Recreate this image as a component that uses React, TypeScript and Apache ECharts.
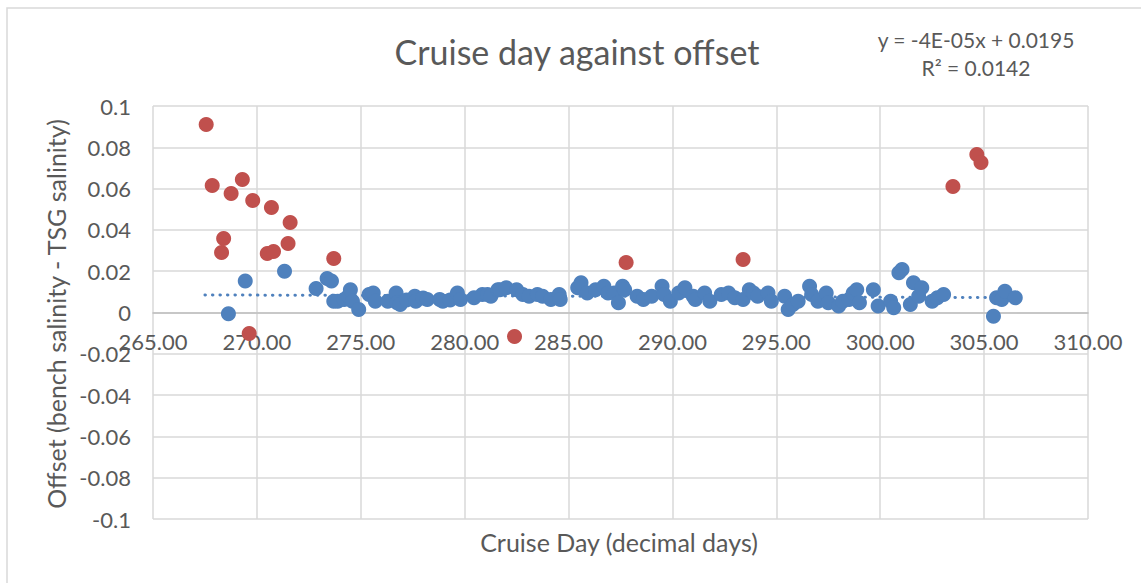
import React, { useEffect, useRef } from "react";
import * as echarts from "echarts";

const blueX = [268.63, 269.44, 271.33, 272.85, 273.38, 273.59, 273.7, 273.89, 274.2, 274.4, 274.5, 274.6, 274.9, 275.4, 275.6, 275.7, 276.3, 276.7, 276.75, 276.9, 277.2, 277.6, 277.65, 278.0, 278.2, 278.8, 278.95, 279.3, 279.65, 279.8, 280.45, 280.85, 281.1, 281.26, 281.6, 281.7, 282.0, 282.5, 282.8, 283.1, 283.5, 283.75, 284.15, 284.55, 284.6, 285.44, 285.6, 285.9, 286.3, 286.7, 286.9, 287.2, 287.4, 287.6, 287.7, 288.3, 288.6, 289.0, 289.5, 289.6, 289.9, 290.3, 290.6, 291.0, 291.1, 291.55, 291.8, 292.35, 292.7, 293.0, 293.4, 293.7, 293.9, 294.1, 294.6, 294.76, 295.4, 295.57, 295.8, 296.05, 296.6, 296.7, 297.0, 297.4, 297.5, 298.0, 298.2, 298.5, 298.7, 298.87, 299.0, 299.67, 299.9, 300.5, 300.65, 300.9, 301.05, 301.45, 301.6, 301.85, 302.0, 302.5, 302.75, 303.05, 305.45, 305.6, 305.85, 306.0, 306.5];
const blueY = [-0.0006, 0.0153, 0.02, 0.0116, 0.0165, 0.0152, 0.0055, 0.0055, 0.0063, 0.0079, 0.011, 0.0055, 0.0015, 0.0087, 0.0095, 0.0055, 0.0055, 0.0095, 0.0047, 0.0039, 0.006, 0.0079, 0.0055, 0.007, 0.0063, 0.0063, 0.0055, 0.006, 0.0095, 0.0063, 0.0071, 0.0087, 0.0087, 0.0079, 0.011, 0.011, 0.012, 0.011, 0.0087, 0.0079, 0.0087, 0.0079, 0.0063, 0.0087, 0.0063, 0.012, 0.0144, 0.0095, 0.011, 0.0127, 0.0095, 0.0095, 0.0047, 0.0127, 0.011, 0.0079, 0.0063, 0.0079, 0.0127, 0.0087, 0.0055, 0.0095, 0.012, 0.0079, 0.0063, 0.0095, 0.0055, 0.0087, 0.0095, 0.0071, 0.0063, 0.011, 0.0095, 0.0079, 0.0095, 0.0055, 0.0079, 0.0015, 0.0039, 0.0055, 0.0127, 0.0087, 0.0055, 0.0095, 0.0047, 0.0031, 0.0055, 0.0063, 0.0095, 0.011, 0.0047, 0.011, 0.0031, 0.0055, 0.0023, 0.0192, 0.0208, 0.0039, 0.0144, 0.0079, 0.012, 0.0055, 0.0071, 0.0087, -0.0018, 0.0071, 0.0063, 0.0103, 0.0071];

const redX = [267.56, 267.85, 268.4, 268.3, 268.76, 269.3, 269.63, 269.8, 270.7, 270.5, 270.8, 271.5, 271.6, 273.7, 282.4, 287.77, 293.4, 303.5, 304.65, 304.85];
const redY = [0.091, 0.0615, 0.0358, 0.029, 0.0576, 0.0644, -0.0102, 0.0542, 0.0508, 0.0286, 0.0295, 0.0334, 0.0436, 0.0262, -0.0116, 0.0242, 0.0257, 0.061, 0.0765, 0.0726];

const trendX = [267.5, 306.5];
const trendY = [0.0085, 0.0072];

const titleText = "Cruise day against offset";
const eqLines = ["y = -4E-05x + 0.0195", "R² = 0.0142"];
const xName = "Cruise Day (decimal days)";
const yName = "Offset (bench salinity - TSG salinity)";

const FONT = "Lato, 'Noto Sans', sans-serif";
const TXT = "#595959";

export default function App() {
  const ref = useRef<HTMLDivElement>(null);
  useEffect(() => {
    if (!ref.current) return;
    const chart = echarts.init(ref.current, undefined, { renderer: "svg" });
    const blue = blueX.map((x, i) => [x, blueY[i]]);
    const red = redX.map((x, i) => [x, redY[i]]);
    const trend = trendX.map((x, i) => [x, trendY[i]]);
    chart.setOption({
      animation: false,
      backgroundColor: "#ffffff",
      textStyle: { fontFamily: FONT },
      grid: { left: 153, right: 53, top: 106, bottom: 64 },
      xAxis: {
        type: "value",
        min: 265,
        max: 310,
        interval: 5,
        offset: -206.5,
        axisLine: { onZero: false, lineStyle: { color: "#BFBFBF", width: 1.5 } },
        axisTick: { show: false },
        axisLabel: {
          color: TXT,
          fontSize: 22,
          fontFamily: FONT,
          margin: 18,
          formatter: (v: number) => v.toFixed(2),
        },
        splitLine: { show: true, lineStyle: { color: "#D9D9D9", width: 1.5 } },
      },
      yAxis: {
        type: "value",
        min: -0.1,
        max: 0.1,
        interval: 0.02,
        axisLine: { show: false },
        axisTick: { show: false },
        axisLabel: {
          color: TXT,
          fontSize: 22,
          fontFamily: FONT,
          margin: 22,
          formatter: (v: number) => String(+v.toFixed(2)),
        },
        splitLine: { show: true, lineStyle: { color: "#D9D9D9", width: 1.5 } },
      },
      graphic: [
        {
          type: "rect",
          shape: { x: 7, y: 8, width: 1400, height: 800 },
          style: { fill: "none", stroke: "#D9D9D9", lineWidth: 1.5 },
          silent: true,
          z: -10,
        },
        {
          type: "text",
          x: 577,
          y: 51,
          style: { text: titleText, fill: TXT, font: `34px ${FONT}`, align: "center", verticalAlign: "middle" },
        },
        {
          type: "text",
          x: 976,
          y: 39,
          style: { text: eqLines[0], fill: TXT, font: `21px ${FONT}`, align: "center", verticalAlign: "middle" },
        },
        {
          type: "text",
          x: 976,
          y: 67,
          style: { text: eqLines[1], fill: TXT, font: `21px ${FONT}`, align: "center", verticalAlign: "middle" },
        },
        {
          type: "text",
          x: 619,
          y: 542,
          style: { text: xName, fill: TXT, font: `25px ${FONT}`, align: "center", verticalAlign: "middle" },
        },
        {
          type: "text",
          x: 56,
          y: 314,
          rotation: Math.PI / 2,
          style: { text: yName, fill: TXT, font: `25px ${FONT}`, align: "center", verticalAlign: "middle" },
        },
      ],
      series: [
        {
          type: "line",
          data: trend,
          symbol: "none",
          z: 1,
          lineStyle: { color: "#4F81BD", width: 3, type: [0.5, 7], cap: "round" },
        },
        {
          type: "scatter",
          data: red,
          symbolSize: 15,
          z: 2,
          itemStyle: { color: "#C0504D", opacity: 1 },
        },
        {
          type: "scatter",
          data: blue,
          symbolSize: 15,
          z: 3,
          itemStyle: { color: "#4F81BD", opacity: 1 },
        },
      ],
    });
    return () => chart.dispose();
  }, []);
  return (
    <div
      ref={ref}
      style={{ position: "fixed", left: 0, top: 0, width: 1141, height: 583 }}
    />
  );
}
